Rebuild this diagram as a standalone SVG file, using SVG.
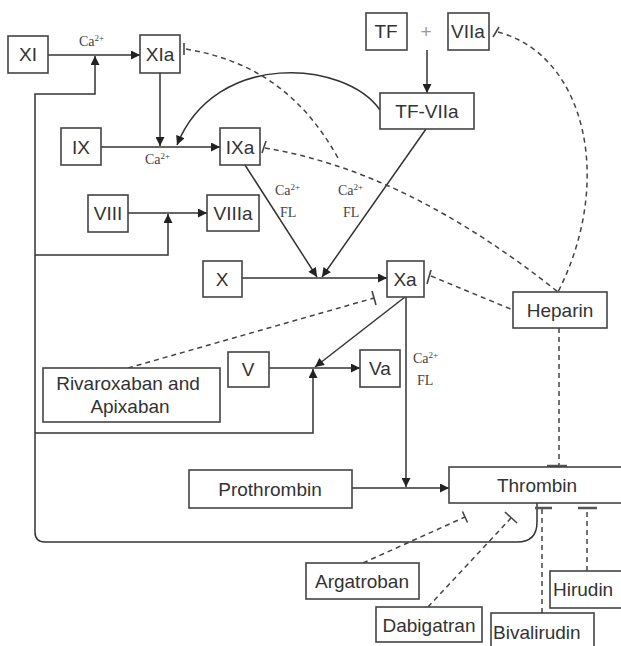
<svg xmlns="http://www.w3.org/2000/svg" width="621" height="646" viewBox="0 0 621 646">
<style>
.box{fill:#fff;stroke:#444;stroke-width:1.6}
.lbl{font-family:"Liberation Sans",Arial,sans-serif;font-size:19px;fill:#333;text-anchor:middle}
.lbl-l{font-family:"Liberation Sans",Arial,sans-serif;font-size:19px;fill:#333}
.ca{font-family:"Liberation Serif","Times New Roman",serif;font-size:14px;fill:#444}
.ln{fill:none;stroke:#333;stroke-width:1.5}
.arr{marker-end:url(#ah)}
.dash{fill:none;stroke:#444;stroke-width:1.5;stroke-dasharray:5,4}
.bar{fill:none;stroke:#444;stroke-width:1.6}
.hbar{fill:none;stroke:#555;stroke-width:2.5}
</style>
<defs>
<marker id="ah" viewBox="0 0 10 10" refX="10" refY="5" markerUnits="userSpaceOnUse" markerWidth="10" markerHeight="9" orient="auto">
<path d="M0,0 L10,5 L0,10 z" fill="#222"/>
</marker>
</defs>
<rect width="621" height="646" fill="#fff"/>

<g id="connectors">
<path class="ln arr" d="M48,55 H140"/>
<path class="ln arr" d="M537,503 V522 Q537,542 517,542 H45 Q35,542 35,532 V94 H95 V56"/>
<path class="ln arr" d="M35,255 H168 V214"/>
<path class="ln arr" d="M35,433 H313 V369"/>
<path class="ln arr" d="M160,73 V146"/>
<path class="ln arr" d="M101,147 H220"/>
<path class="ln arr" d="M380,110 C345,60 215,50 177,145"/>
<path class="ln arr" d="M427,50 V93"/>
<path class="ln arr" d="M128,213 H207"/>
<path class="ln arr" d="M245,165 L317,277"/>
<path class="ln arr" d="M426,129 L322,277"/>
<path class="ln arr" d="M242,278 H387"/>
<path class="ln arr" d="M405,297 L315,367"/>
<path class="ln arr" d="M269,368 H360"/>
<path class="ln arr" d="M406,297 V487"/>
<path class="ln arr" d="M352,488 H449"/>

<path class="dash" d="M186,49 C250,60 300,90 338,158"/>
<path class="bar" d="M184,43 V55"/>
<path class="dash" d="M265,148 Q406,171 558,292"/>
<path class="bar" d="M262,153 L266,141"/>
<path class="dash" d="M498,32 C585,55 615,180 558,292"/>
<path class="bar" d="M493,37 L499,27"/>
<path class="dash" d="M431,276 L513,310"/>
<path class="bar" d="M427,284 L431,270"/>
<path class="dash" d="M128,368 L374,298"/>
<path class="bar" d="M372,291 L376,305"/>
<path class="dash" d="M559,328 V466"/>
<path class="hbar" d="M547,466 H567"/>
<path class="dash" d="M363,563 L465,517"/>
<path class="bar" d="M462.5,511.5 L467.5,522.5"/>
<path class="dash" d="M428,607 L511,518"/>
<path class="bar" d="M505,512 L517,523"/>
<path class="dash" d="M542,613 V508"/>
<path class="hbar" d="M535,508 H552"/>
<path class="dash" d="M587,571 V508"/>
<path class="hbar" d="M578,508 H597"/>

<text class="ca" x="79" y="46">Ca<tspan font-size="9" dy="-5">2+</tspan></text>
<text class="ca" x="145" y="164">Ca<tspan font-size="9" dy="-5">2+</tspan></text>
<text class="ca" x="275" y="195">Ca<tspan font-size="9" dy="-5">2+</tspan></text>
<text class="ca" x="280" y="217">FL</text>
<text class="ca" x="338" y="195">Ca<tspan font-size="9" dy="-5">2+</tspan></text>
<text class="ca" x="343" y="217">FL</text>
<text class="ca" x="413" y="363">Ca<tspan font-size="9" dy="-5">2+</tspan></text>
<text class="ca" x="417" y="385">FL</text>
</g>

<g id="XI"><rect class="box" x="8" y="36" width="40" height="37"/><text class="lbl" x="28" y="61">XI</text></g>
<g id="XIa"><rect class="box" x="140" y="35" width="40" height="38"/><text class="lbl" x="160" y="61">XIa</text></g>
<g id="TF"><rect class="box" x="366" y="13" width="41" height="37"/><text class="lbl" x="386" y="38">TF</text></g>
<g id="plus"><text class="lbl" x="426" y="38" style="fill:#999">+</text></g>
<g id="VIIa"><rect class="box" x="448" y="13" width="41" height="37"/><text class="lbl" x="468" y="38">VIIa</text></g>
<g id="TF-VIIa"><rect class="box" x="380" y="93" width="94" height="36"/><text class="lbl" x="427" y="118">TF-VIIa</text></g>
<g id="IX"><rect class="box" x="61" y="128" width="40" height="37"/><text class="lbl" x="81" y="154">IX</text></g>
<g id="IXa"><rect class="box" x="220" y="128" width="40" height="37"/><text class="lbl" x="240" y="154">IXa</text></g>
<g id="VIII"><rect class="box" x="88" y="195" width="40" height="37"/><text class="lbl" x="108" y="220">VIII</text></g>
<g id="VIIIa"><rect class="box" x="207" y="195" width="52" height="36"/><text class="lbl" x="233" y="220">VIIIa</text></g>
<g id="X"><rect class="box" x="203" y="261" width="39" height="36"/><text class="lbl" x="222" y="286">X</text></g>
<g id="Xa"><rect class="box" x="387" y="261" width="37" height="36"/><text class="lbl" x="405" y="286">Xa</text></g>
<g id="Heparin"><rect class="box" x="513" y="292" width="94" height="36"/><text class="lbl" x="560" y="317">Heparin</text></g>
<g id="V"><rect class="box" x="228" y="352" width="41" height="35"/><text class="lbl" x="248" y="376">V</text></g>
<g id="Va"><rect class="box" x="360" y="350" width="40" height="37"/><text class="lbl" x="380" y="375">Va</text></g>
<g id="Rivaroxaban"><rect class="box" x="43" y="368" width="177" height="54"/><text class="lbl" x="128" y="390">Rivaroxaban and</text><text class="lbl" x="130" y="413">Apixaban</text></g>
<g id="Prothrombin"><rect class="box" x="189" y="470" width="163" height="38"/><text class="lbl" x="270" y="496">Prothrombin</text></g>
<g id="Thrombin"><rect class="box" x="449" y="467" width="180" height="36"/><text class="lbl" x="537" y="492">Thrombin</text></g>
<g id="Argatroban"><rect class="box" x="306" y="563" width="113" height="36"/><text class="lbl" x="362" y="588">Argatroban</text></g>
<g id="Dabigatran"><rect class="box" x="376" y="607" width="106" height="35"/><text class="lbl" x="429" y="632">Dabigatran</text></g>
<g id="Bivalirudin"><rect class="box" x="491" y="613" width="103" height="40"/><text class="lbl-l" x="493" y="639">Bivalirudin</text></g>
<g id="Hirudin"><rect class="box" x="550" y="571" width="80" height="37"/><text class="lbl-l" x="553" y="596">Hirudin</text></g>
</svg>
